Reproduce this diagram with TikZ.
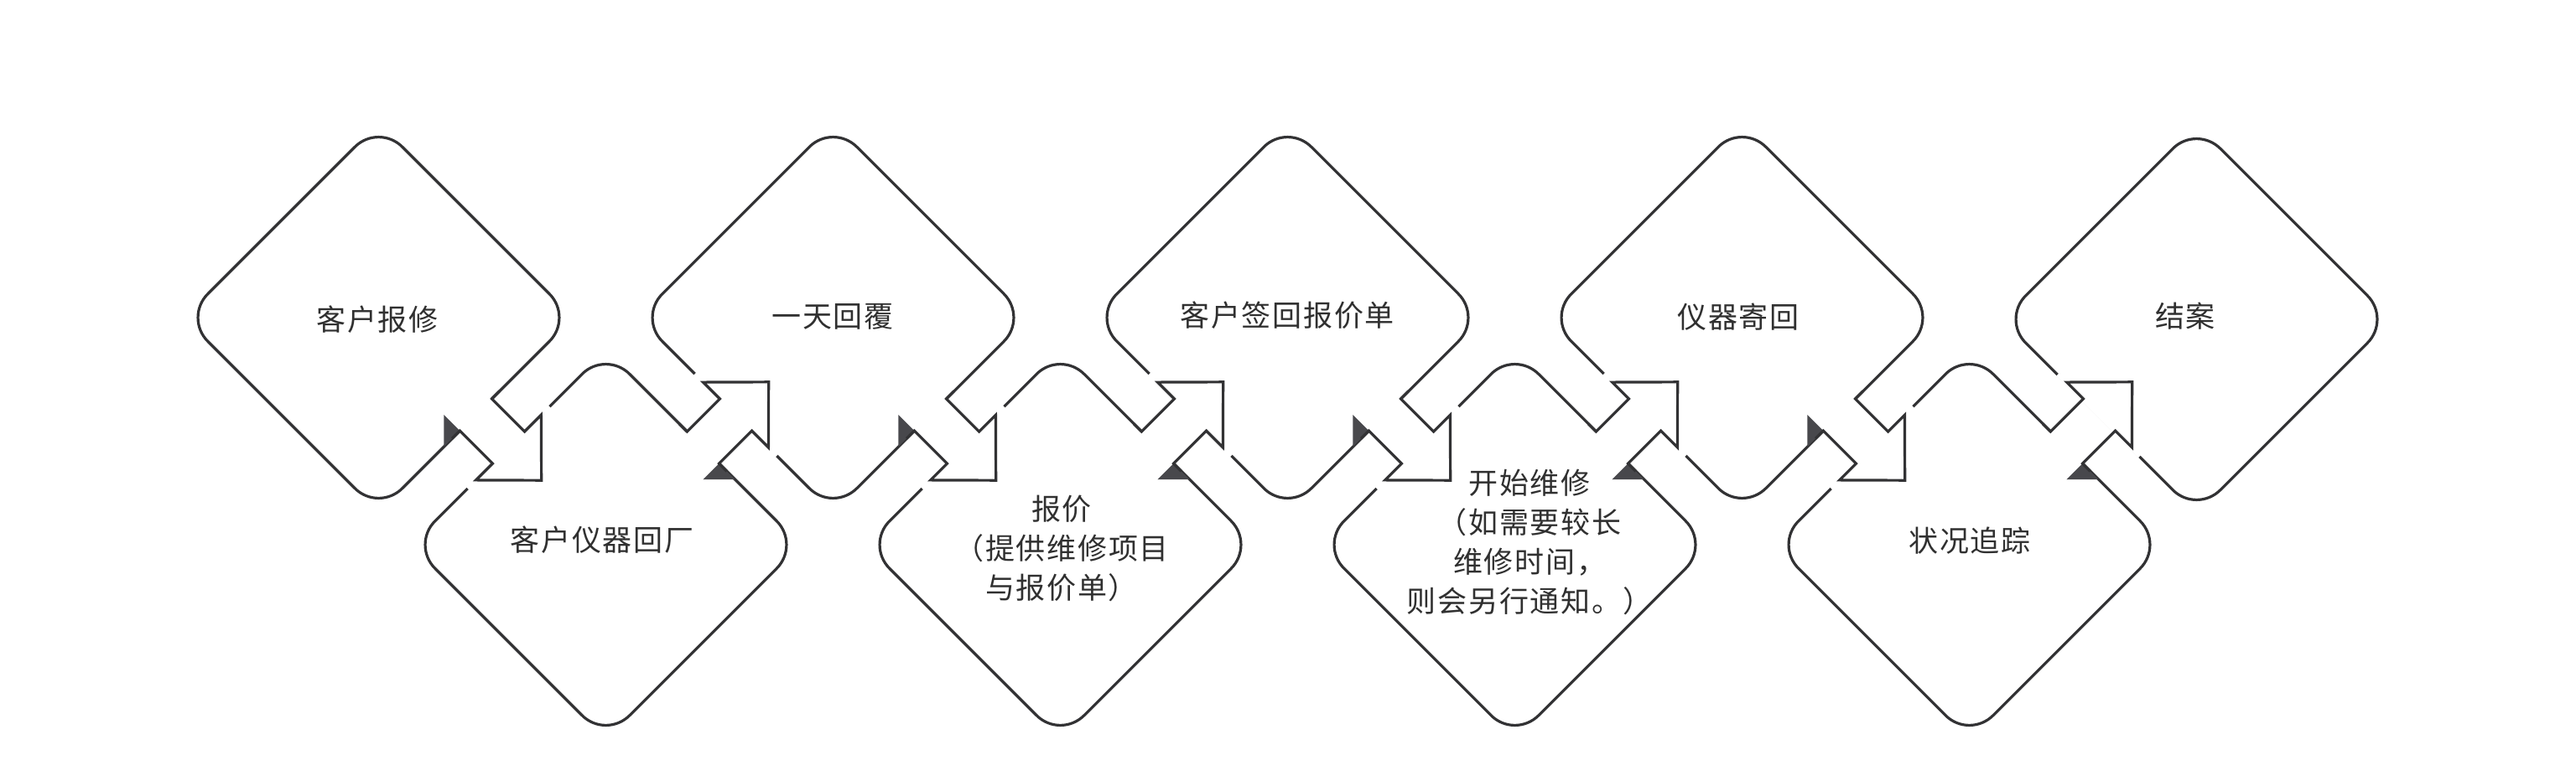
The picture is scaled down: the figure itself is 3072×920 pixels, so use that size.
\documentclass[tikz,border=0pt]{standalone}
\usepackage{fontspec}
\newfontfamily\cjk[LetterSpace=5]{Noto Sans CJK SC}
\usetikzlibrary{shapes.geometric}
\definecolor{ln}{RGB}{50,50,52}
\definecolor{tri}{RGB}{72,72,76}
\definecolor{tx}{RGB}{48,48,48}
\tikzset{
  dia/.style={shape=diamond, draw=ln, line width=3.2pt, rounded corners=40pt,
    minimum width=464pt, minimum height=464pt, inner sep=0pt, outer sep=0pt},
  arrline/.style={draw=ln, line width=3.2pt, line join=miter, miter limit=10},
  lbl/.style={text=tx, font=\cjk\fontsize{35pt}{47pt}\selectfont, inner sep=0pt, align=center},
  erase/.style={fill=white},
  fold/.style={fill=tri},
}
\newcommand\flowarrow[2]{%
  \begin{scope}[shift={(#1.center)}, rotate=#2]
    \path[erase] (160.5,-27) rectangle (167.5,27);
    \path[erase] (215.7,-69) rectangle (222.7,69);
    \path[fold] (137,27) -- (164,27) -- (164,54) -- cycle;
    \draw[arrline] (164,-40) -- (164,-27) -- (219.2,-27) -- (219.2,-55) -- (274.6,0)
      -- (219.2,55) -- (219.2,27) -- (164,27) -- (164,40);
  \end{scope}}
\begin{document}
\begin{tikzpicture}[x=1pt, y=-1pt]
  \fill[white] (0,0) rectangle (3072,920);
  \useasboundingbox (0,0) rectangle (3072,920);
  % diamonds
  \node[dia] (U1) at (451.5,379) {};
  \node[dia] (U2) at (993.5,379) {};
  \node[dia] (U3) at (1535.5,379) {};
  \node[dia] (U4) at (2077.5,379) {};
  \node[dia] (U5) at (2619.5,381) {};
  \node[dia] (L1) at (722.5,650) {};
  \node[dia] (L2) at (1264.5,650) {};
  \node[dia] (L3) at (1806.5,650) {};
  \node[dia] (L4) at (2348.5,650) {};
  % connectors
  \flowarrow{U1}{-45}
  \flowarrow{L1}{45}
  \flowarrow{U2}{-45}
  \flowarrow{L2}{45}
  \flowarrow{U3}{-45}
  \flowarrow{L3}{45}
  \flowarrow{U4}{-45}
  \flowarrow{L4}{45}
  % labels
  \node[lbl] (t1) at (450,381) {客户报修};
  \node[lbl] (t2) at (718,644) {客户仪器回厂};
  \node[lbl] (t3) at (993,378) {一天回覆};
  \node[lbl] (t4) at (1266,654) {报价\\（提供维修项目\\与报价单）};
  \node[lbl] (t5) at (1535,376) {客户签回报价单};
  \node[lbl] (t6) at (1824,647) {开始维修\\（如需要较长\\维修时间，\\则会另行通知。）};
  \node[lbl] (t7) at (2073,378) {仪器寄回};
  \node[lbl] (t8) at (2349,645) {状况追踪};
  \node[lbl] (t9) at (2606,377) {结案};
\end{tikzpicture}
\end{document}
